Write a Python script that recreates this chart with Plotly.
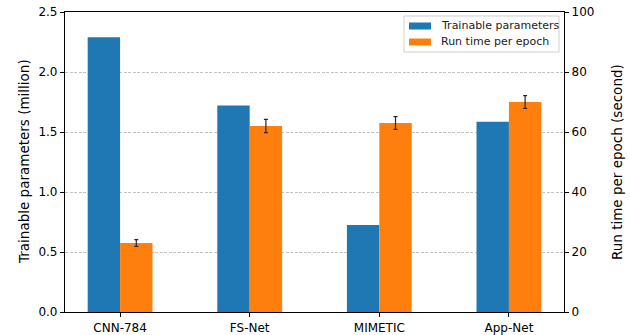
import plotly.graph_objects as go

# Models compared
models = ["CNN-784", "FS-Net", "MIMETIC", "App-Net"]
# Trainable parameters, in millions
params_million = [2.29, 1.72, 0.725, 1.585]
# Run time per epoch, in seconds, with its spread
runtime_sec = [23.0, 62.0, 63.0, 70.0]
runtime_err = [1.1, 2.2, 2.1, 2.1]

left_ticks = [0.0, 0.5, 1.0, 1.5, 2.0, 2.5]
right_ticks = [0, 20, 40, 60, 80, 100]

BLUE = "#1f77b4"
ORANGE = "#ff7f0e"
FONT = "DejaVu Sans"

W, H = 630, 335
L, R, T, B = 65, 66, 12, 23
PW, PH = W - L - R, H - T - B


def px_x(p):
    return (p - L) / PW


def px_y(p):
    return (H - B - p) / PH


xpos = list(range(len(models)))

fig = go.Figure()
fig.add_trace(go.Bar(
    x=xpos, y=params_million, width=0.25, offset=-0.25,
    marker=dict(color=BLUE, line=dict(width=0)),
    name="Trainable parameters", yaxis="y", showlegend=False,
))
fig.add_trace(go.Bar(
    x=xpos, y=runtime_sec, width=0.25, offset=0.0,
    marker=dict(color=ORANGE, line=dict(width=0)),
    error_y=dict(type="data", array=runtime_err, visible=True,
                 color="#262626", thickness=1.2, width=2),
    name="Run time per epoch", yaxis="y2", showlegend=False,
))

axis_common = dict(
    showline=True, linecolor="black", linewidth=1.2,
    ticks="outside", ticklen=4, tickwidth=1, tickcolor="black",
    tickfont=dict(family=FONT, size=12, color="black"),
    zeroline=False, automargin=False,
)

fig.update_layout(
    width=W, height=H,
    margin=dict(l=L, r=R, t=T, b=B, pad=0, autoexpand=False),
    paper_bgcolor="white", plot_bgcolor="white",
    barmode="overlay", showlegend=False,
    font=dict(family=FONT, size=12, color="black"),
    xaxis=dict(
        range=[-0.425, 3.425], tickvals=xpos, ticktext=models,
        mirror=True, showgrid=False, **axis_common,
    ),
    yaxis=dict(
        range=[0, 2.5], tickvals=left_ticks,
        ticktext=[f"{v:.1f}" for v in left_ticks],
        showgrid=True, gridcolor="#c4c4c4", gridwidth=0.8,
        griddash="3px,1.5px",
        **axis_common,
    ),
    yaxis2=dict(
        range=[0, 100], tickvals=right_ticks,
        overlaying="y", side="right", showgrid=False,
        **axis_common,
    ),
)

# Axis titles
fig.add_annotation(
    x=px_x(24), y=0.5, xref="paper", yref="paper",
    text="Trainable parameters (million)", textangle=-90, showarrow=False,
    xanchor="center", yanchor="middle", font=dict(family=FONT, size=13.5),
)
fig.add_annotation(
    x=px_x(617), y=0.5, xref="paper", yref="paper",
    text="Run time per epoch (second)", textangle=-90, showarrow=False,
    xanchor="center", yanchor="middle", font=dict(family=FONT, size=13.5),
)

# Legend box with swatches
fig.add_shape(
    type="rect", xref="paper", yref="paper",
    x0=px_x(404), x1=px_x(559), y0=px_y(52), y1=px_y(16),
    line=dict(color="#d0d0d0", width=1), fillcolor="rgba(255,255,255,0.85)",
    layer="above",
)
legend_items = [("Trainable parameters", BLUE, 26), ("Run time per epoch", ORANGE, 42)]
for label, color, cy in legend_items:
    fig.add_shape(
        type="rect", xref="paper", yref="paper",
        x0=px_x(409), x1=px_x(431), y0=px_y(cy + 3.5), y1=px_y(cy - 3.5),
        line=dict(width=0), fillcolor=color, layer="above",
    )
    fig.add_annotation(
        x=px_x(439), y=px_y(cy), xref="paper", yref="paper",
        text=label, showarrow=False, xanchor="left", yanchor="middle",
        font=dict(family=FONT, size=11, color="#222222"),
    )

fig.write_html("out.html")
